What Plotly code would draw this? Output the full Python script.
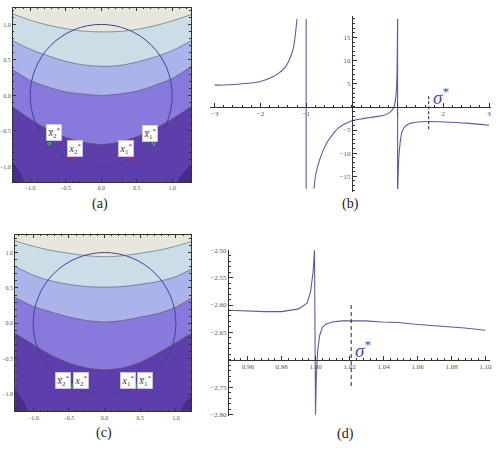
import plotly.graph_objects as go

W, H = 498, 451

# ---------------- data: contour panels (a) and (c) ----------------
band_x = [-1.3, -1.0, -0.75, -0.5, -0.25, 0.0, 0.25, 0.5, 0.75, 1.0, 1.3]
a_b1 = [1.17, 1.06, 0.99, 0.94, 0.905, 0.895, 0.90, 0.93, 0.98, 1.05, 1.15]
a_b2 = [0.80, 0.65, 0.56, 0.48, 0.43, 0.41, 0.42, 0.47, 0.54, 0.63, 0.79]
a_b3 = [0.40, 0.21, 0.12, 0.05, 0.02, 0.0, 0.02, 0.06, 0.14, 0.24, 0.43]
a_b4 = [-0.12, -0.33, -0.48, -0.59, -0.66, -0.69, -0.66, -0.58, -0.47, -0.33, -0.13]
c_b1 = [1.18, 1.09, 1.03, 0.99, 0.955, 0.94, 0.955, 0.99, 1.03, 1.09, 1.18]
c_b2 = [0.83, 0.68, 0.60, 0.55, 0.52, 0.51, 0.52, 0.55, 0.59, 0.66, 0.81]
c_b3 = [0.39, 0.24, 0.16, 0.09, 0.04, 0.02, 0.04, 0.09, 0.14, 0.23, 0.41]
c_b4 = [-0.11, -0.30, -0.45, -0.56, -0.63, -0.655, -0.63, -0.55, -0.42, -0.27, -0.09]
corner_lx = [-1.3, -1.2, -1.12, -1.05]
corner_ly = [-0.88, -1.0, -1.12, -1.3]
corner_rx = [1.3, 1.18, 1.1, 1.05]
corner_ry = [-0.95, -1.06, -1.15, -1.3]
circle_r = 1.0

a_green_x = [-0.73, 0.74]
a_green_y = [-0.68, -0.68]
a_red_x = [-0.42, 0.44]
a_red_y = [-0.90, -0.90]
c_green_x = [-0.453, 0.453]
c_green_y = [-0.89, -0.89]
c_red_x = [-0.476, 0.429]
c_red_y = [-0.90, -0.90]

# ---------------- data: panel (b) ----------------
b_left_x = [-3.0, -2.5, -2.0, -1.75, -1.6, -1.5, -1.4, -1.3, -1.25, -1.2]
b_left_y = [4.7, 4.9, 5.5, 6.4, 7.3, 8.1, 9.5, 12.0, 14.5, 19.0]
b_mid_x = [-0.83, -0.79, -0.7, -0.6, -0.5, -0.4, -0.3, -0.2, -0.1, 0.0, 0.2, 0.4,
           0.6, 0.7, 0.8, 0.88, 0.93, 0.96, 0.98, 0.99, 1.0]
b_mid_y = [-17.7, -14.5, -11.3, -8.8, -7.0, -5.7, -4.6, -3.9, -3.4, -3.0, -2.6, -2.3,
           -2.0, -1.8, -1.4, -0.7, 0.3, 2.0, 5.0, 9.0, 19.0]
b_right_x = [1.0, 1.03, 1.06, 1.09, 1.14, 1.2, 1.3, 1.45, 1.68, 2.0, 2.5, 3.0]
b_right_y = [-17.7, -10.5, -7.4, -5.6, -4.5, -3.9, -3.5, -3.25, -3.15, -3.25, -3.5, -3.95]
b_vlines_x = [-1.0, 1.0]
b_vline_y = [-17.7, 19.0]
b_sigma_x = 1.68
b_sigma_y = [2.3, -5.3]
b_xticks = [-3, -2, -1, 1, 2, 3]
b_yticks = [-15, -10, -5, 5, 10, 15]

# ---------------- data: panel (d) ----------------
d_x = [0.9489, 0.96, 0.97, 0.98, 0.99, 0.995, 0.997, 0.9985, 0.9993, 0.9999,
       1.0004, 1.0012, 1.0023, 1.0039, 1.0059, 1.0098, 1.0156, 1.0209, 1.0293,
       1.039, 1.0488, 1.0585, 1.0683, 1.078, 1.0878, 1.0999]
d_y = [-2.6096, -2.611, -2.612, -2.612, -2.607, -2.596, -2.575, -2.539, -2.50, -2.80,
       -2.725, -2.683, -2.656, -2.641, -2.635, -2.631, -2.629, -2.629, -2.629,
       -2.631, -2.632, -2.635, -2.637, -2.640, -2.642, -2.646]
d_sigma_x = 1.0209
d_sigma_y = [-2.60, -2.751]
d_xticks = [0.96, 0.98, 1.00, 1.02, 1.04, 1.06, 1.08, 1.10]
d_yticks = [-2.80, -2.75, -2.65, -2.60, -2.55, -2.50]

# ---------------- styling ----------------
band_colors = ['#e9e7dd', '#cbdde6', '#aab3ea', '#8879dc', '#5e3eab']
corner_color = '#4a2a8c'
bound_color = 'rgba(90,90,90,0.75)'
curve_color = '#5a5aa8'
sigma_color = '#4a4aa0'
serif = 'Liberation Serif'
tick_col = '#555555'

fig = go.Figure()


def dom_x(p0, p1):
    return [p0 / W, p1 / W]


def dom_y(p0, p1):
    return [1 - p1 / H, 1 - p0 / H]


def contour_panel(xa, ya, xr, yr, bounds, gx, gy, rx, ry):
    xs, ys = 'x' + xa, 'y' + ya
    x_lo, x_hi = xr[0] - 0.2, xr[1] + 0.2
    y_lo, y_hi = yr[0] - 0.2, yr[1] + 0.2
    fig.add_trace(go.Scatter(x=[x_lo, x_hi, x_hi, x_lo, x_lo], y=[y_lo, y_lo, y_hi, y_hi, y_lo],
                             fill='toself', fillcolor=band_colors[0], mode='lines',
                             line=dict(width=0), xaxis=xs, yaxis=ys, hoverinfo='skip'))
    for k, b in enumerate(bounds):
        fig.add_trace(go.Scatter(x=band_x + [band_x[-1], band_x[0], band_x[0]],
                                 y=b + [y_lo, y_lo, b[0]],
                                 fill='toself', fillcolor=band_colors[k + 1], mode='lines',
                                 line=dict(width=0), xaxis=xs, yaxis=ys, hoverinfo='skip'))
    fig.add_trace(go.Scatter(x=corner_lx + [x_lo, corner_lx[0]], y=corner_ly + [y_lo, corner_ly[0]],
                             fill='toself', fillcolor=corner_color, mode='lines',
                             line=dict(width=0), xaxis=xs, yaxis=ys, hoverinfo='skip'))
    fig.add_trace(go.Scatter(x=corner_rx + [x_hi, corner_rx[0]], y=corner_ry + [y_lo, corner_ry[0]],
                             fill='toself', fillcolor=corner_color, mode='lines',
                             line=dict(width=0), xaxis=xs, yaxis=ys, hoverinfo='skip'))
    for b in bounds:
        fig.add_trace(go.Scatter(x=band_x, y=b, mode='lines', line=dict(color=bound_color, width=0.8, shape='spline'),
                                 xaxis=xs, yaxis=ys, hoverinfo='skip'))
    fig.add_shape(type='circle', xref=xs, yref=ys, x0=-circle_r, y0=-circle_r, x1=circle_r, y1=circle_r,
                  line=dict(color='#42429a', width=1))
    fig.add_trace(go.Scatter(x=rx, y=ry, mode='markers', marker=dict(color='#e0203c', size=4),
                             xaxis=xs, yaxis=ys))
    fig.add_trace(go.Scatter(x=gx, y=gy, mode='markers', marker=dict(color='#30c040', size=4),
                             xaxis=xs, yaxis=ys))


def frame_axes(dom, rng, anchor):
    return dict(domain=dom, range=rng, anchor=anchor, showgrid=False, zeroline=False, showline=True,
                mirror='ticks', linecolor='#333', linewidth=1, ticks='inside', ticklen=3, tickcolor='#333',
                tickmode='linear', tick0=0, dtick=0.5, tickformat='.1f',
                tickfont=dict(family=serif, size=6, color=tick_col),
                minor=dict(ticks='inside', ticklen=1.5, tickcolor='#333', dtick=0.1, tick0=0))


# panel (a)
a_xr = [-1.242, 1.262]
a_yr = [-1.222, 1.236]
contour_panel('', '', a_xr, a_yr, [a_b1, a_b2, a_b3, a_b4], a_green_x, a_green_y, a_red_x, a_red_y)
# panel (c)
c_xr = [-1.252, 1.209]
c_yr = [-1.244, 1.249]
contour_panel('3', '3', c_xr, c_yr, [c_b1, c_b2, c_b3, c_b4], c_green_x, c_green_y, c_red_x, c_red_y)

# panel (b)
line_b = dict(color=curve_color, width=1.1)
for xs_, ys_ in [(b_left_x, b_left_y), (b_mid_x, b_mid_y), (b_right_x, b_right_y)]:
    fig.add_trace(go.Scatter(x=xs_, y=ys_, mode='lines', line=dict(**line_b, shape='spline', smoothing=0.6),
                             xaxis='x2', yaxis='y2'))
for vx in b_vlines_x:
    fig.add_trace(go.Scatter(x=[vx, vx], y=b_vline_y, mode='lines', line=line_b, xaxis='x2', yaxis='y2'))
fig.add_trace(go.Scatter(x=[b_sigma_x, b_sigma_x], y=b_sigma_y, mode='lines',
                         line=dict(color='#222', width=1, dash='3px,2px'), xaxis='x2', yaxis='y2'))

# panel (d)
fig.add_trace(go.Scatter(x=d_x, y=d_y, mode='lines', line=dict(color=curve_color, width=1.1),
                         xaxis='x4', yaxis='y4'))
fig.add_trace(go.Scatter(x=[d_sigma_x, d_sigma_x], y=d_sigma_y, mode='lines',
                         line=dict(color='#222', width=1, dash='4px,3px'), xaxis='x4', yaxis='y4'))

# axes
b_xr = [-3.1, 3.05]
b_yr = [-18.4, 19.6]
b_dx = dom_x(353 + 46 * b_xr[0], 353 + 46 * b_xr[1])
b_dy = dom_y(105.3 - 4.69 * b_yr[1], 105.3 - 4.69 * b_yr[0])
b_x0_paper = b_dx[0] + (0 - b_xr[0]) / (b_xr[1] - b_xr[0]) * (b_dx[1] - b_dx[0])
b_y0_paper = b_dy[0] + (0 - b_yr[0]) / (b_yr[1] - b_yr[0]) * (b_dy[1] - b_dy[0])

d_xr = [0.9489, 1.1025]
d_yr = [-2.802, -2.499]
d_dx = dom_x(229.3, 491.7)
d_dy = dom_y(250, 418.3)
d_y0_paper = d_dy[0] + (-2.70 - d_yr[0]) / (d_yr[1] - d_yr[0]) * (d_dy[1] - d_dy[0])

tf7 = dict(family=serif, size=7, color=tick_col)
fig.update_layout(
    width=W, height=H, margin=dict(l=0, r=0, t=0, b=0),
    paper_bgcolor='white', plot_bgcolor='white', showlegend=False,
    xaxis=frame_axes(dom_x(12, 191), a_xr, 'y'),
    yaxis=frame_axes(dom_y(4.7, 181.7), a_yr, 'x'),
    xaxis3=frame_axes(dom_x(14.3, 191), c_xr, 'y3'),
    yaxis3=frame_axes(dom_y(235, 414), c_yr, 'x3'),
    xaxis2=dict(domain=b_dx, range=b_xr, anchor='free', position=b_y0_paper, showgrid=False, zeroline=False,
                showline=True, linecolor='#333', linewidth=1, ticks='inside', ticklen=4, tickcolor='#333',
                tickmode='array', tickvals=b_xticks, tickfont=tf7,
                minor=dict(ticks='inside', ticklen=2, tickcolor='#333', tickmode='linear', tick0=0, dtick=0.2)),
    yaxis2=dict(domain=b_dy, range=b_yr, anchor='free', position=b_x0_paper, showgrid=False, zeroline=False,
                showline=True, linecolor='#333', linewidth=1, ticks='inside', ticklen=4, tickcolor='#333',
                tickmode='array', tickvals=b_yticks, tickfont=tf7,
                minor=dict(ticks='inside', ticklen=2, tickcolor='#333', tickmode='linear', tick0=0, dtick=1)),
    xaxis4=dict(domain=d_dx, range=d_xr, anchor='free', position=d_y0_paper, showgrid=False, zeroline=False,
                showline=True, linecolor='#333', linewidth=1, ticks='inside', ticklen=4, tickcolor='#333',
                tickmode='array', tickvals=d_xticks, tickformat='.2f', tickfont=tf7,
                minor=dict(ticks='inside', ticklen=2, tickcolor='#333', tickmode='linear', tick0=0.96, dtick=0.004)),
    yaxis4=dict(domain=d_dy, range=d_yr, anchor='x4', showgrid=False, zeroline=False,
                showline=True, linecolor='#333', linewidth=1, ticks='inside', ticklen=4, tickcolor='#333',
                tickmode='array', tickvals=d_yticks, tickformat='.2f', tickfont=tf7,
                minor=dict(ticks='inside', ticklen=2, tickcolor='#333', tickmode='linear', tick0=-2.8, dtick=0.01)),
)

# point labels
def lab(text, x, y, xa, ya, dx, dy):
    fig.add_annotation(x=x, y=y, xref=xa, yref=ya, text=text, showarrow=False, xshift=dx, yshift=dy,
                       font=dict(family=serif, size=10, color='#333'), bgcolor='white',
                       bordercolor='#bbbbbb', borderwidth=0.5, borderpad=1)

xbar2 = '<i>x\u0305</i><sub>2</sub><sup>*</sup>'
xbar1 = '<i>x\u0305</i><sub>1</sub><sup>*</sup>'
x2s = '<i>x</i><sub>2</sub><sup>*</sup>'
x1s = '<i>x</i><sub>1</sub><sup>*</sup>'
lab(xbar2, a_green_x[0], a_green_y[0], 'x', 'y', 5, 11)
lab(xbar1, a_green_x[1], a_green_y[1], 'x', 'y', -4, 10)
lab(x2s, a_red_x[0], a_red_y[0], 'x', 'y', 4, 11)
lab(x1s, a_red_x[1], a_red_y[1], 'x', 'y', -6, 11)
lab(xbar2, c_green_x[0], c_green_y[0], 'x3', 'y3', -9, 6)
lab(xbar1, c_green_x[1], c_green_y[1], 'x3', 'y3', 8, 6)
lab(x2s, c_red_x[0], c_red_y[0], 'x3', 'y3', 10, 7)
lab(x1s, c_red_x[1], c_red_y[1], 'x3', 'y3', -7, 7)

# sigma labels
fig.add_annotation(x=1.72, y=2.4, xref='x2', yref='y2', text='<i>σ</i><sup>*</sup>', showarrow=False,
                   xanchor='left', yanchor='middle', font=dict(family=serif, size=19, color=sigma_color))
fig.add_annotation(x=1.0218, y=-2.68, xref='x4', yref='y4', text='<i>σ</i><sup>*</sup>', showarrow=False,
                   xanchor='left', yanchor='middle', font=dict(family=serif, size=19, color=sigma_color))

# panel letters
for t, px, py in [('(a)', 100, 204), ('(b)', 352, 204), ('(c)', 104, 436), ('(d)', 347, 437)]:
    fig.add_annotation(x=px / W, y=1 - py / H, xref='paper', yref='paper', text=t, showarrow=False,
                       xanchor='center', yanchor='middle', font=dict(family=serif, size=14, color='#222'))

fig.write_html('out.html')
